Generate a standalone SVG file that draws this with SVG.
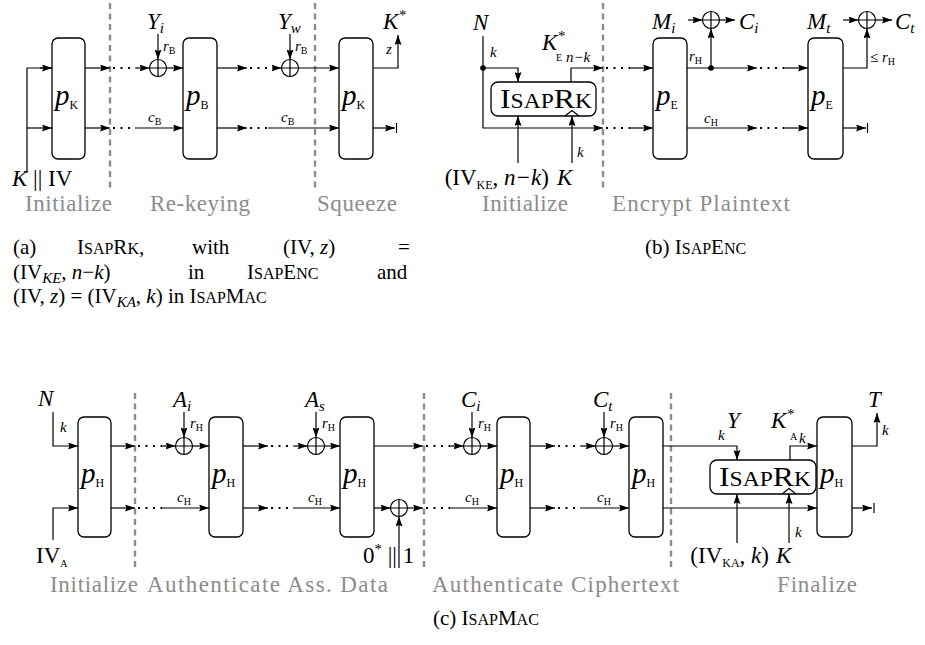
<svg xmlns="http://www.w3.org/2000/svg" width="925" height="645" viewBox="0 0 925 645">
<defs>
<marker id="ah" viewBox="0 0 10 7" refX="10" refY="3.5" markerWidth="10" markerHeight="7" orient="auto" markerUnits="userSpaceOnUse"><path d="M0,0 L10,3.5 L0,7 L1.5,3.5 z" fill="#000"/></marker>
<g id="xor"><circle cx="0" cy="0" r="8.5" fill="#fff" stroke="#000" stroke-width="1.2"/><path d="M-8.5,0 H8.5 M0,-8.5 V8.5" stroke="#000" stroke-width="1.2" fill="none"/></g>
</defs>
<style>
.ln{fill:none;stroke:#000;stroke-width:1.2}
.ar{marker-end:url(#ah)}
.dt{fill:none;stroke:#000;stroke-width:2.2;stroke-dasharray:2 5.5}
.sep{stroke:#8c8c8c;stroke-width:2.4;stroke-dasharray:6 4.5;fill:none}
.box{fill:#fff;stroke:#000;stroke-width:1.3}
text{font-family:"Liberation Serif","DejaVu Serif",serif;fill:#000}
.m{font-style:italic;font-size:23px}
.rm{font-size:23px}
.g{font-size:23px;fill:#8c8c8c}
.cap{font-size:21px}
.p{font-style:italic;font-size:29px}
.s{font-style:normal;font-size:12px}
.sm{font-style:italic;font-size:15px}
.ss{font-style:normal;font-size:10px}
.ss2{font-style:normal;font-size:12px}
.sc{font-size:16px}
.rk{font-size:27px}
.rks{font-size:20px}
</style>

<!-- separators -->
<g id="separators">
<path class="sep" d="M110,3 V190 M315,3 V190 M603,3 V190"/>
<path class="sep" d="M135,393 V568 M424,393 V568 M671,393 V568"/>
</g>

<g id="connectors">
<!-- (a) -->
<path class="ln" d="M27,173 V68 H52"/>
<path class="ln ar" d="M40,68 H52"/>
<path class="ln ar" d="M27,128 H52"/>
<path class="ln ar" d="M85,68 H110"/>
<path class="dt" d="M113,68 H136"/>
<path class="ln ar" d="M136,68 H149.5"/>
<path class="ln ar" d="M158,34 V59.5"/>
<path class="ln ar" d="M166.5,68 H183"/>
<path class="ln ar" d="M85,128 H110"/>
<path class="dt" d="M113,128 H136"/>
<path class="ln ar" d="M136,128 H183"/>
<path class="ln ar" d="M217,68 H247"/>
<path class="dt" d="M250,68 H272"/>
<path class="ln ar" d="M272,68 H281.5"/>
<path class="ln ar" d="M290,34 V59.5"/>
<path class="ln ar" d="M298.5,68 H339"/>
<path class="ln ar" d="M217,128 H247"/>
<path class="dt" d="M250,128 H268"/>
<path class="ln ar" d="M268,128 H339"/>
<path class="ln ar" d="M373,68 H398 V35"/>
<path class="ln ar" d="M373,128 H395"/>
<path class="ln" d="M396.5,123 V133"/>
<!-- (b) -->
<path class="ln ar" d="M483,36 V128 H603"/>
<circle cx="483" cy="68" r="2.8" fill="#000"/>
<path class="ln ar" d="M483,68 H518 V82"/>
<path class="ln ar" d="M571,82 V68 H603"/>
<path class="ln ar" d="M518,163 V116"/>
<path class="ln ar" d="M572,163 V116"/>
<path class="dt" d="M606,68 H630 M606,128 H630"/>
<path class="ln ar" d="M630,68 H653"/>
<path class="ln ar" d="M630,128 H653"/>
<path class="ln ar" d="M687,68 H757"/>
<circle cx="711" cy="68" r="2.8" fill="#000"/>
<path class="ln ar" d="M711,68 V28.5"/>
<path class="ln ar" d="M688,20 H702.5"/>
<path class="ln ar" d="M719.5,20 H735"/>
<path class="dt" d="M760,68 H784 M760,128 H784"/>
<path class="ln ar" d="M784,68 H808"/>
<path class="ln ar" d="M687,128 H757"/>
<path class="ln ar" d="M784,128 H808"/>
<path class="ln ar" d="M843,68 H867 V28.5"/>
<path class="ln ar" d="M843,20 H858.5"/>
<path class="ln ar" d="M875.5,20 H892"/>
<path class="ln ar" d="M843,128 H866"/>
<path class="ln" d="M867.5,123 V133"/>
<!-- (c) -->
<path class="ln ar" d="M53,412 V446 H78"/>
<path class="ln ar" d="M53,540 V508 H78"/>
<path class="ln ar" d="M111,446 H135"/>
<path class="dt" d="M138,446 H162 M138,508 H162"/>
<path class="ln ar" d="M162,446 H175.5"/>
<path class="ln ar" d="M184,412 V437.5"/>
<path class="ln ar" d="M192.5,446 H209"/>
<path class="ln ar" d="M111,508 H135"/>
<path class="ln ar" d="M162,508 H209"/>
<path class="ln ar" d="M243,446 H268"/>
<path class="dt" d="M271,446 H294 M271,508 H294"/>
<path class="ln ar" d="M294,446 H307.5"/>
<path class="ln ar" d="M316,412 V437.5"/>
<path class="ln ar" d="M324.5,446 H340"/>
<path class="ln ar" d="M243,508 H268"/>
<path class="ln ar" d="M294,508 H340"/>
<path class="ln ar" d="M374,446 H423"/>
<path class="dt" d="M426,446 H450 M426,508 H450"/>
<path class="ln ar" d="M450,446 H463.5"/>
<path class="ln ar" d="M472,412 V437.5"/>
<path class="ln ar" d="M480.5,446 H497"/>
<path class="ln ar" d="M374,508 H390.5"/>
<path class="ln ar" d="M399,568 V516.5"/>
<path class="ln ar" d="M407.5,508 H423"/>
<path class="ln ar" d="M450,508 H497"/>
<path class="ln ar" d="M530,446 H555"/>
<path class="dt" d="M558,446 H581 M558,508 H581"/>
<path class="ln ar" d="M581,446 H595.5"/>
<path class="ln ar" d="M604,412 V437.5"/>
<path class="ln ar" d="M612.5,446 H629"/>
<path class="ln ar" d="M530,508 H555"/>
<path class="ln ar" d="M581,508 H629"/>
<path class="ln ar" d="M663,446 H737 V460"/>
<path class="ln ar" d="M663,508 H817"/>
<path class="ln ar" d="M790,460 V446 H817"/>
<path class="ln ar" d="M737,543 V494"/>
<path class="ln ar" d="M789,543 V494"/>
<path class="ln ar" d="M852,446 H877 V413"/>
<path class="ln ar" d="M852,508 H872"/>
<path class="ln" d="M874,503 V513"/>
</g>

<!-- (a) nodes -->
<g id="a-pK1"><rect class="box" x="52" y="38" width="33" height="121" rx="6"/><text class="p" x="55" y="105">p<tspan class="s" dy="4">K</tspan></text></g>
<g id="a-pB"><rect class="box" x="183" y="38" width="34" height="121" rx="6"/><text class="p" x="186" y="105">p<tspan class="s" dy="4">B</tspan></text></g>
<g id="a-pK2"><rect class="box" x="339" y="38" width="34" height="121" rx="6"/><text class="p" x="342" y="105">p<tspan class="s" dy="4">K</tspan></text></g>
<g id="a-x1"><use href="#xor" x="158" y="68"/></g>
<g id="a-x2"><use href="#xor" x="290" y="68"/></g>

<!-- (b) nodes -->
<g id="b-rk"><rect class="box" x="491" y="82" width="105" height="34" rx="7"/><text class="rk" x="500" y="108" textLength="92" lengthAdjust="spacingAndGlyphs">I<tspan class="rks">SAP</tspan>R<tspan class="rks">K</tspan></text><path class="ln" d="M565,116 L572,110.5 L579,116"/></g>
<g id="b-pE1"><rect class="box" x="653" y="38" width="34" height="121" rx="6"/><text class="p" x="656" y="105">p<tspan class="s" dy="4">E</tspan></text></g>
<g id="b-pE2"><rect class="box" x="808" y="38" width="35" height="121" rx="6"/><text class="p" x="811" y="105">p<tspan class="s" dy="4">E</tspan></text></g>
<g id="b-x1"><use href="#xor" x="711" y="20"/></g>
<g id="b-x2"><use href="#xor" x="867" y="20"/></g>

<!-- (c) nodes -->
<g id="c-p1"><rect class="box" x="78" y="417" width="33" height="120" rx="6"/><text class="p" x="81" y="483">p<tspan class="s" dy="4">H</tspan></text></g>
<g id="c-p2"><rect class="box" x="209" y="417" width="34" height="120" rx="6"/><text class="p" x="212" y="483">p<tspan class="s" dy="4">H</tspan></text></g>
<g id="c-p3"><rect class="box" x="340" y="417" width="34" height="120" rx="6"/><text class="p" x="343" y="483">p<tspan class="s" dy="4">H</tspan></text></g>
<g id="c-p4"><rect class="box" x="497" y="417" width="33" height="120" rx="6"/><text class="p" x="500" y="483">p<tspan class="s" dy="4">H</tspan></text></g>
<g id="c-p5"><rect class="box" x="629" y="417" width="34" height="120" rx="6"/><text class="p" x="632" y="483">p<tspan class="s" dy="4">H</tspan></text></g>
<g id="c-p6"><rect class="box" x="817" y="417" width="35" height="120" rx="6"/><text class="p" x="820" y="483">p<tspan class="s" dy="4">H</tspan></text></g>
<g id="c-rk"><rect class="box" x="710" y="460" width="106" height="34" rx="7"/><text class="rk" x="719" y="486" textLength="92" lengthAdjust="spacingAndGlyphs">I<tspan class="rks">SAP</tspan>R<tspan class="rks">K</tspan></text><path class="ln" d="M782,494 L789,488.5 L796,494"/></g>
<g id="c-x1"><use href="#xor" x="184" y="446"/></g>
<g id="c-x2"><use href="#xor" x="316" y="446"/></g>
<g id="c-x3"><use href="#xor" x="399" y="508"/></g>
<g id="c-x4"><use href="#xor" x="472" y="446"/></g>
<g id="c-x5"><use href="#xor" x="604" y="446"/></g>

<g id="labels">
<!-- (a) -->
<text class="m" x="12" y="186">K<tspan font-style="normal"> || IV</tspan></text>
<text class="m" x="147" y="29">Y<tspan class="sm" dy="4">i</tspan></text>
<text class="sm" x="163" y="51">r<tspan class="ss" dy="3">B</tspan></text>
<text class="m" x="278" y="29">Y<tspan class="sm" dy="4">w</tspan></text>
<text class="sm" x="295" y="51">r<tspan class="ss" dy="3">B</tspan></text>
<text class="sm" x="148" y="122">c<tspan class="ss" dy="3">B</tspan></text>
<text class="sm" x="281" y="122">c<tspan class="ss" dy="3">B</tspan></text>
<text class="m" x="383" y="29">K<tspan class="sm" dy="-9">*</tspan></text>
<text class="sm" x="386" y="54">z</text>
<text class="g" x="25" y="211" textLength="87">Initialize</text>
<text class="g" x="150" y="211" textLength="100">Re-keying</text>
<text class="g" x="317" y="211" textLength="80">Squeeze</text>
<!-- (b) -->
<text class="m" x="473" y="30">N</text>
<text class="sm" x="490" y="57">k</text>
<text class="m" x="542" y="50">K<tspan class="sm" dy="-9">*</tspan></text>
<text class="ss" x="556" y="61">E</text>
<text class="sm" x="566" y="62">n−k</text>
<text class="m" x="549" y="185" text-anchor="end" font-size="24"><tspan font-style="normal">(IV</tspan><tspan class="ss2" dy="4">KE</tspan><tspan dy="-4" font-style="normal">, </tspan>n−k<tspan font-style="normal">)</tspan></text>
<text class="m" x="557" y="185">K</text>
<text class="sm" x="577" y="157">k</text>
<text class="m" x="652" y="29">M<tspan class="sm" dy="4">i</tspan></text>
<text class="m" x="739" y="29">C<tspan class="sm" dy="4">i</tspan></text>
<text class="sm" x="689" y="61">r<tspan class="ss" dy="3">H</tspan></text>
<text class="sm" x="704" y="123">c<tspan class="ss" dy="3">H</tspan></text>
<text class="m" x="807" y="29">M<tspan class="sm" dy="4">t</tspan></text>
<text class="m" x="895" y="29">C<tspan class="sm" dy="4">t</tspan></text>
<text class="sm" x="870" y="62"><tspan font-style="normal">≤ </tspan>r<tspan class="ss" dy="3">H</tspan></text>
<text class="g" x="482" y="211" textLength="86">Initialize</text>
<text class="g" x="612" y="211" textLength="178">Encrypt Plaintext</text>
<!-- captions -->
<text class="cap" x="13" y="254">(a)</text>
<text class="cap" x="77" y="254">I<tspan class="sc">SAP</tspan>R<tspan class="sc">K</tspan>,</text>
<text class="cap" x="192" y="254">with</text>
<text class="cap" x="283" y="254">(IV, <tspan font-style="italic">z</tspan>)</text>
<text class="cap" x="398" y="254">=</text>
<text class="cap" x="13" y="279">(IV<tspan font-style="italic" font-size="15" dy="4">KE</tspan><tspan dy="-4">, </tspan><tspan font-style="italic">n</tspan>−<tspan font-style="italic">k</tspan>)</text>
<text class="cap" x="188" y="279">in</text>
<text class="cap" x="247" y="279">I<tspan class="sc">SAP</tspan>E<tspan class="sc">NC</tspan></text>
<text class="cap" x="377" y="279">and</text>
<text class="cap" x="13" y="303">(IV, <tspan font-style="italic">z</tspan>) = (IV<tspan font-style="italic" font-size="15" dy="4">KA</tspan><tspan dy="-4">, </tspan><tspan font-style="italic">k</tspan>) in I<tspan class="sc">SAP</tspan>M<tspan class="sc">AC</tspan></text>
<text class="cap" x="645" y="254">(b) I<tspan class="sc">SAP</tspan>E<tspan class="sc">NC</tspan></text>
<!-- (c) -->
<text class="m" x="38" y="406">N</text>
<text class="sm" x="60" y="432">k</text>
<text class="rm" x="36" y="563">IV<tspan class="ss" dy="4">A</tspan></text>
<text class="m" x="173" y="407">A<tspan class="sm" dy="4">i</tspan></text>
<text class="sm" x="190" y="428">r<tspan class="ss" dy="3">H</tspan></text>
<text class="m" x="305" y="407">A<tspan class="sm" dy="4">s</tspan></text>
<text class="sm" x="322" y="428">r<tspan class="ss" dy="3">H</tspan></text>
<text class="m" x="461" y="407">C<tspan class="sm" dy="4">i</tspan></text>
<text class="sm" x="478" y="428">r<tspan class="ss" dy="3">H</tspan></text>
<text class="m" x="593" y="407">C<tspan class="sm" dy="4">t</tspan></text>
<text class="sm" x="610" y="428">r<tspan class="ss" dy="3">H</tspan></text>
<text class="sm" x="177" y="502">c<tspan class="ss" dy="3">H</tspan></text>
<text class="sm" x="308" y="502">c<tspan class="ss" dy="3">H</tspan></text>
<text class="sm" x="465" y="502">c<tspan class="ss" dy="3">H</tspan></text>
<text class="sm" x="597" y="502">c<tspan class="ss" dy="3">H</tspan></text>
<text class="rm" x="363" y="563">0<tspan font-size="15" dy="-9">*</tspan><tspan dy="9"> || 1</tspan></text>
<text class="m" x="727" y="428">Y</text>
<text class="sm" x="718" y="440">k</text>
<text class="m" x="771" y="428">K<tspan class="sm" dy="-9">*</tspan></text>
<text class="ss" x="790" y="440">A</text>
<text class="sm" x="799" y="443">k</text>
<text class="m" x="769" y="563" text-anchor="end" font-size="24"><tspan font-style="normal">(IV</tspan><tspan class="ss2" dy="4">KA</tspan><tspan dy="-4" font-style="normal">, </tspan>k<tspan font-style="normal">)</tspan></text>
<text class="m" x="776" y="563">K</text>
<text class="sm" x="795" y="537">k</text>
<text class="m" x="868" y="407">T</text>
<text class="sm" x="882" y="435">k</text>
<text class="g" x="50" y="592" textLength="88">Initialize</text>
<text class="g" x="147" y="592" textLength="241">Authenticate Ass. Data</text>
<text class="g" x="432" y="592" textLength="247">Authenticate Ciphertext</text>
<text class="g" x="777" y="592" textLength="80">Finalize</text>
<text class="cap" x="433" y="625">(c) I<tspan class="sc">SAP</tspan>M<tspan class="sc">AC</tspan></text>
</g>
</svg>
